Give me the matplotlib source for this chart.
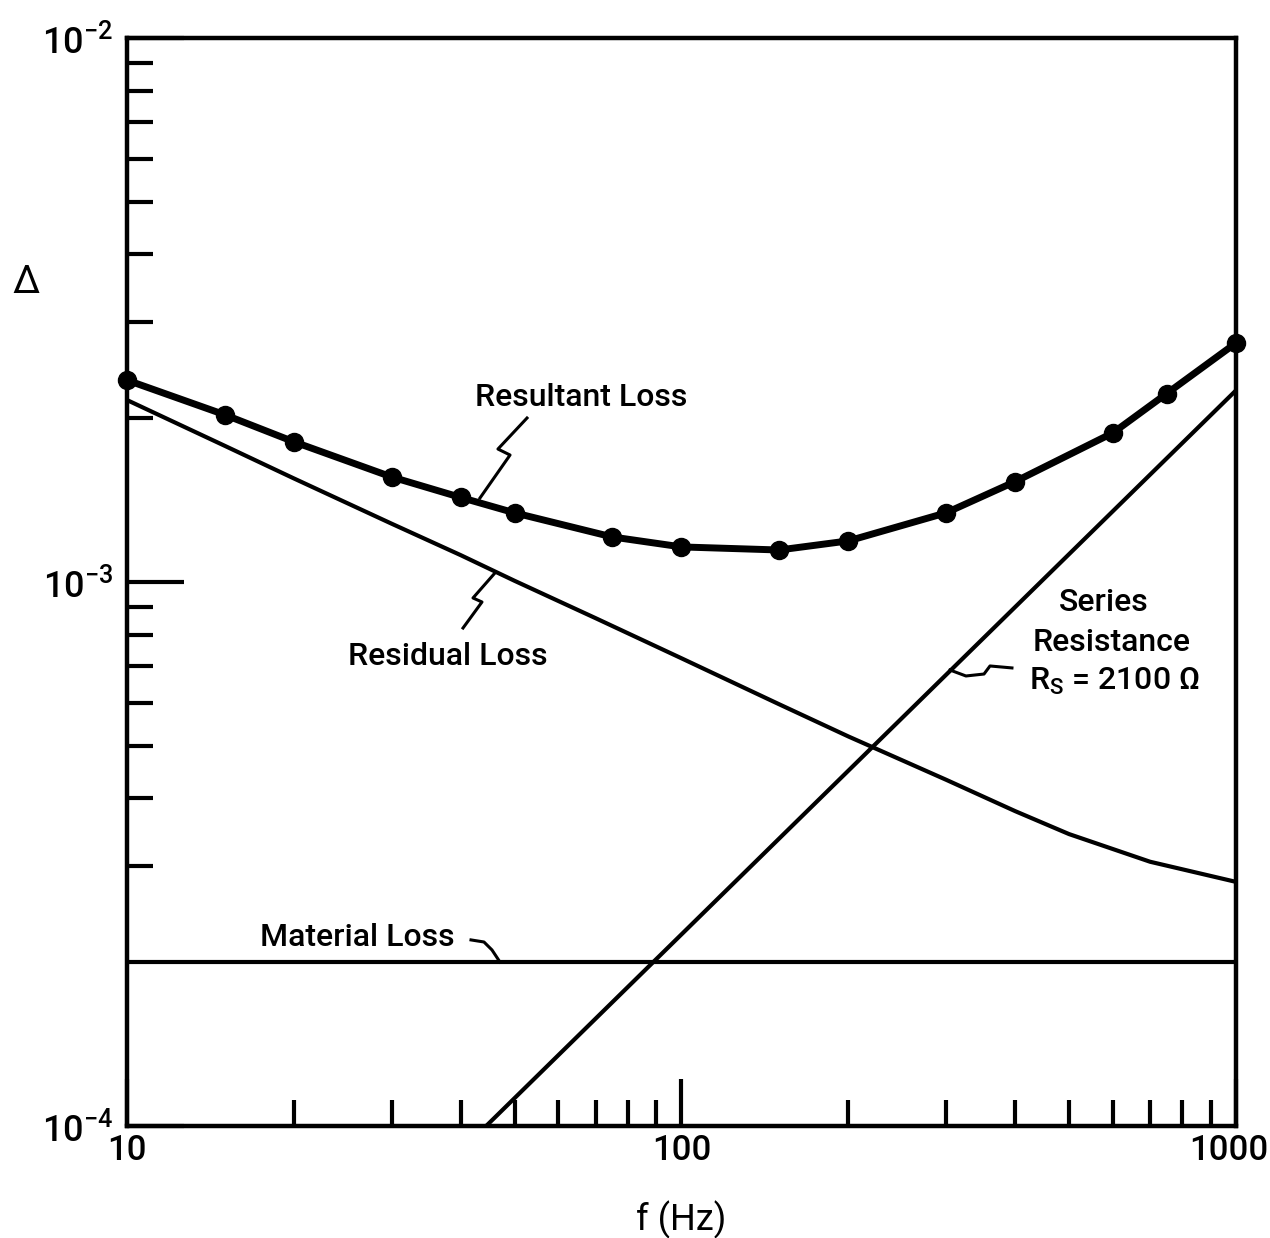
import matplotlib
matplotlib.use('Agg')
import matplotlib.pyplot as plt
from matplotlib.ticker import FixedLocator, NullFormatter
from matplotlib.transforms import ScaledTranslation

plt.rcParams['font.family'] = ['Roboto', 'DejaVu Sans']
plt.rcParams['font.weight'] = 'medium'
plt.rcParams['mathtext.fontset'] = 'custom'
plt.rcParams['mathtext.rm'] = 'Roboto:medium'
plt.rcParams['mathtext.it'] = 'Roboto:medium'
plt.rcParams['mathtext.bf'] = 'Roboto:bold'

# ─── data: loss tangent vs frequency ─────────────────────
# measured resultant loss (dots)
result_f = [10, 15, 20, 30, 40, 50, 75, 100, 150, 200, 300, 400, 600, 750, 1000]
result_delta = [2.35e-3, 2.03e-3, 1.81e-3, 1.56e-3, 1.43e-3, 1.34e-3, 1.21e-3, 1.16e-3,
                1.145e-3, 1.19e-3, 1.34e-3, 1.53e-3, 1.88e-3, 2.22e-3, 2.75e-3]

# residual loss component
resid_f = [10, 15, 20, 30, 40, 50, 70, 100, 150, 200, 300, 400, 500, 700, 1000]
resid_delta = [2.16e-3, 1.78e-3, 1.55e-3, 1.28e-3, 1.12e-3, 1.005e-3, 0.858e-3, 0.724e-3,
               0.596e-3, 0.520e-3, 0.433e-3, 0.379e-3, 0.344e-3, 0.306e-3, 0.281e-3]

# series resistance contribution, R_S = 2100 ohm (slope 1)
series_f = [10, 1000]
series_delta = [2.25e-5, 2.25e-3]

# frequency-independent material loss
material_f = [10, 1000]
material_delta = [2e-4, 2e-4]

x_major = [10, 100, 1000]
x_major_labels = ['10', '100', '1000']
x_minor = [20, 30, 40, 50, 60, 70, 80, 90, 200, 300, 400, 500, 600, 700, 800, 900]
y_major = [1e-4, 1e-3, 1e-2]
y_major_labels = ['10$^{-4}$', '10$^{-3}$', '10$^{-2}$']
y_minor = [3e-4, 4e-4, 5e-4, 6e-4, 7e-4, 8e-4, 9e-4,
           2e-3, 3e-3, 4e-3, 5e-3, 6e-3, 7e-3, 8e-3, 9e-3]

# ─── figure ─────────────────────────────────────────────
fig = plt.figure(figsize=(12.7, 12.38), dpi=100)
ax = fig.add_axes([0.1, 0.0905, 0.8732, 0.8788])
ax.set_xscale('log')
ax.set_yscale('log')
ax.set_xlim(10, 1000)
ax.set_ylim(1e-4, 1e-2)

ax.plot(resid_f, resid_delta, color='black', lw=3)
ax.plot(series_f, series_delta, color='black', lw=3)
ax.plot(material_f, material_delta, color='black', lw=3)
ax.plot(result_f, result_delta, color='black', lw=5, marker='o', ms=13,
        clip_on=False, zorder=5)

for s in ax.spines.values():
    s.set_linewidth(3.2)

ax.xaxis.set_major_locator(FixedLocator(x_major))
ax.set_xticklabels(x_major_labels)
ax.xaxis.set_minor_locator(FixedLocator(x_minor))
ax.xaxis.set_minor_formatter(NullFormatter())
ax.yaxis.set_major_locator(FixedLocator(y_major))
ax.set_yticklabels(y_major_labels)
ax.yaxis.set_minor_locator(FixedLocator(y_minor))
ax.yaxis.set_minor_formatter(NullFormatter())

ax.tick_params(which='both', direction='in', top=False, right=False, width=3, color='black')
ax.tick_params(axis='x', which='major', length=34, labelsize=25, pad=6)
ax.tick_params(axis='y', which='major', length=41, labelsize=26, pad=10)
ax.tick_params(which='minor', length=19)
# nudge the last frequency label so it stays inside the figure
last = ax.get_xticklabels()[-1]
last.set_transform(last.get_transform() + ScaledTranslation(-0.07, 0, fig.dpi_scale_trans))

ax.set_xlabel('f (Hz)', fontsize=26, labelpad=24)
ax.set_ylabel('Δ', fontsize=28, rotation=0, va='center', ha='center')
ax.yaxis.set_label_coords(-0.091, 0.775)

# ─── curve labels and leaders ───────────────────────────
txt = dict(fontsize=23, ha='center', va='center', transform=ax.transAxes)
ax.text(0.4094, 0.670, 'Resultant Loss', **txt)
ax.text(0.2895, 0.4311, 'Residual Loss', **txt)
ax.text(0.2074, 0.1728, 'Material Loss', **txt)
ax.text(0.8810, 0.4807, 'Series', **txt)
ax.text(0.8880, 0.4440, 'Resistance', **txt)
ax.text(0.8900, 0.4090, 'R$_\\mathrm{S}$ = 2100 Ω', **txt)

lead = dict(color='black', lw=2.2, transform=ax.transAxes, clip_on=False)
ax.plot([0.3607, 0.3345, 0.3454, 0.3183], [0.6507, 0.6222, 0.6167, 0.5772], **lead)
ax.plot([0.3318, 0.3120, 0.3201, 0.3030], [0.5083, 0.4853, 0.4816, 0.4577], **lead)
ax.plot([0.7421, 0.7565, 0.7728, 0.7782, 0.7980], [0.4191, 0.4136, 0.4154, 0.4228, 0.4210], **lead)
ax.plot([0.3102, 0.3219, 0.3291, 0.3363], [0.1710, 0.1691, 0.1618, 0.1507], **lead)

fig.savefig('out.png', dpi=100)
